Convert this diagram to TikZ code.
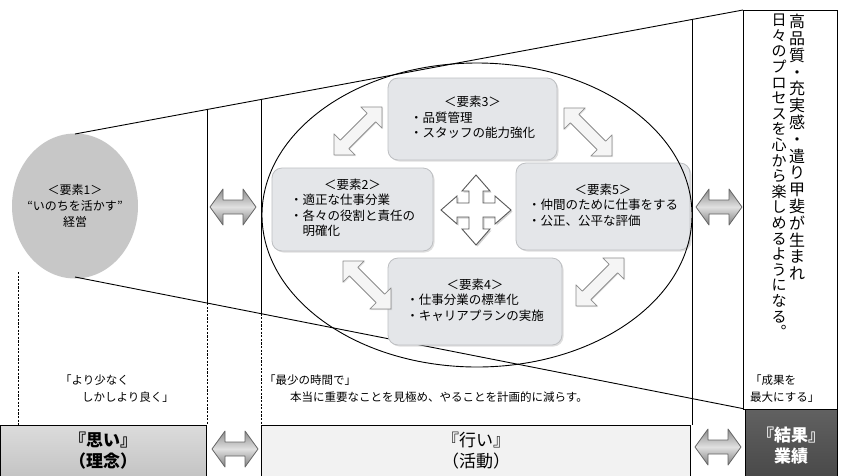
\documentclass[tikz,border=0pt]{standalone}
\usepackage{fontspec}
\setmainfont{Noto Sans CJK JP}
\usetikzlibrary{shapes.geometric,shadows}
\definecolor{boxfill}{HTML}{E4E6E9}
\definecolor{boxline}{HTML}{BDBFC2}
\begin{document}
\begin{tikzpicture}[x=1pt,y=-1pt,
  frame/.style={line width=0.9pt, black},
  dashframe/.style={line width=0.9pt, black, dash pattern=on 2.2pt off 1.4pt},
  elbox/.style={draw=boxline, line width=0.8pt, fill=boxfill, rounded corners=10pt,
    drop shadow={opacity=0.25, shadow xshift=1.5pt, shadow yshift=-1.5pt}, inner sep=0pt},
  eltext/.style={font=\fontsize{12.5}{15.5}\selectfont},
  harr/.style={draw=black!60, line width=0.8pt, top color=black!45, bottom color=black!50, middle color=black!12, line join=round},
  darr/.style={draw=black!45, line width=0.8pt, fill=black!4, line join=round,
    drop shadow={opacity=0.2, shadow xshift=1pt, shadow yshift=-1pt}},
  crossarr/.style={draw=black!65, line width=0.9pt, fill=white, line join=miter,
    drop shadow={opacity=0.35, shadow xshift=1.5pt, shadow yshift=-1.5pt}},
  pics/hdbl/.style={code={\path[harr] (-23,0) -- (-10,-18) -- (-10,-7) -- (10,-7) -- (10,-18) -- (23,0) -- (10,18) -- (10,7) -- (-10,7) -- (-10,18) -- cycle;}},
  pics/ddbl/.style={code={\path[darr] (-34,0) -- (-19,-15) -- (-19,-6) -- (19,-6) -- (19,-15) -- (34,0) -- (19,15) -- (19,6) -- (-19,6) -- (-19,15) -- cycle;}},
  pics/cross/.style={code={\path[crossarr] (35,0) -- (19,-14) -- (19,-7) -- (7,-7) -- (7,-19) -- (14,-19) -- (0,-35) -- (-14,-19) -- (-7,-19) -- (-7,-7) -- (-19,-7) -- (-19,-14) -- (-35,0) -- (-19,14) -- (-19,7) -- (-7,7) -- (-7,19) -- (-14,19) -- (0,35) -- (14,19) -- (7,19) -- (7,7) -- (19,7) -- (19,14) -- cycle;}},
  bigtext/.style={font=\fontsize{17}{21}\selectfont, align=center, inner sep=0pt},
  smalltext/.style={font=\fontsize{11.5}{14}\selectfont, anchor=west, inner sep=0pt},
  vtext/.style={align=center, anchor=north, inner sep=0pt}
]
\useasboundingbox (0,0) rectangle (841,475);
\fill[white] (0,0) rectangle (841,475);

% element 1 circle
\node[ellipse, minimum width=126pt, minimum height=145pt, fill=black!22, inner sep=0pt] (c1) at (75,206) {};
\node[font=\fontsize{12}{16}\selectfont, align=center, inner sep=0pt] (c1t) at (75,206) {＜要素1＞\\“いのちを活かす”\\経営};

% frame coordinates
\coordinate (tl) at (75,134);
\coordinate (tr) at (743,10);
\coordinate (bl) at (75,277);
\coordinate (br) at (745,409);
\coordinate (a1) at (207,109.5);
\coordinate (a2) at (207,303);
\coordinate (a3) at (207,425);
\coordinate (b1) at (261,99.5);
\coordinate (b2) at (261,313.6);
\coordinate (b3) at (261,425);
\coordinate (d1) at (692,19.5);
\coordinate (d3) at (692,425);
\coordinate (l1) at (18,272);
\coordinate (l3) at (18,425);

\draw[frame] (tl) -- (tr);
\draw[frame] (bl) -- (br);
\draw[frame] (a1) -- (a2);
\draw[dashframe] (a2) -- (a3);
\draw[frame] (b1) -- (b2);
\draw[dashframe] (b2) -- (b3);
\draw[frame] (d1) -- (d3);
\draw[dashframe] (l1) -- (l3);

% right column
\node[draw, frame, fill=white, minimum width=94pt, minimum height=399pt, anchor=north west, inner sep=0pt] (rc) at (743,10) {};
\node[vtext, font=\fontsize{16}{16.8}\selectfont] (v1) at (797,14) {高\\品\\質\\・\\充\\実\\感\\・\\遣\\り\\甲\\斐\\が\\生\\ま\\れ};
\node[vtext, font=\fontsize{15}{15.6}\selectfont] (v2) at (779,14) {日\\々\\の\\プ\\ロ\\セ\\ス\\を\\心\\か\\ら\\楽\\し\\め\\る\\よ\\う\\に\\な\\る\\︒};

% element boxes
\node[elbox, eltext, minimum width=169pt, minimum height=82pt] (e3) at (472.5,119)
  {\begin{tabular}{@{}l@{}}\multicolumn{1}{@{}c@{}}{＜要素3＞}\\・品質管理\\・スタッフの能力強化\end{tabular}};
\node[elbox, eltext, minimum width=161pt, minimum height=83pt] (e2) at (352.5,209.5)
  {\begin{tabular}{@{}l@{}}\multicolumn{1}{@{}c@{}}{＜要素2＞}\\・適正な仕事分業\\・各々の役割と責任の\\\phantom{・}明確化\end{tabular}};
\node[elbox, eltext, minimum width=174pt, minimum height=87pt] (e5) at (603,206.5)
  {\begin{tabular}{@{}l@{}}\multicolumn{1}{@{}c@{}}{＜要素5＞}\\・仲間のために仕事をする\\・公正、公平な評価\end{tabular}};
\node[elbox, eltext, minimum width=174pt, minimum height=87pt] (e4) at (475,301.5)
  {\begin{tabular}{@{}l@{}}\multicolumn{1}{@{}c@{}}{＜要素4＞}\\・仕事分業の標準化\\・キャリアプランの実施\end{tabular}};

% big ellipse
\node[ellipse, draw, frame, minimum width=430pt, minimum height=304pt, inner sep=0pt] (ell) at (477,215) {};

% arrows inside ellipse
\pic (cr) at (476,210) {cross};
\pic[rotate=45] (da1) at (358,131) {ddbl};
\pic[rotate=-45] (da2) at (588,132) {ddbl};
\pic[rotate=-45] (da3) at (367,285) {ddbl};
\pic[rotate=45] (da4) at (600,282) {ddbl};

% horizontal double arrows
\pic (ha1) at (233,207) {hdbl};
\pic (ha2) at (719,207) {hdbl};
\pic (ha3) at (235,449) {hdbl};
\pic (ha4) at (718,447) {hdbl};

% captions
\node[smalltext] (y1) at (60,380) {「より少なく};
\node[smalltext] (y2) at (82,397) {しかしより良く」};
\node[smalltext] (s1) at (264,380) {「最少の時間で」};
\node[smalltext] (s2) at (290,397) {本当に重要なことを見極め、やることを計画的に減らす。};
\node[smalltext] (k1) at (750,380) {「成果を};
\node[smalltext] (k2) at (750,397) {最大にする」};

% bottom boxes
\node[draw, frame, top color=black!14, bottom color=black!24, minimum width=206pt, minimum height=56pt, anchor=north west, inner sep=0pt] (omoi) at (0,425) {};
\node[bigtext, font=\fontsize{17}{21}\selectfont\bfseries] (omoit) at (103,451) {『思い』\\（理念）};
\node[draw, frame, fill=black!5, minimum width=429pt, minimum height=56pt, anchor=north west, inner sep=0pt] (okonai) at (261,425) {};
\node[bigtext] (okonait) at (476,451) {『行い』\\（活動）};
\node[draw, frame, top color=black!62, bottom color=black!72, minimum width=92pt, minimum height=72pt, anchor=north west, inner sep=0pt] (kekka) at (745,409) {};
\node[bigtext, text=white, font=\fontsize{17}{21}\selectfont\bfseries] (kekkat) at (791,446) {『結果』\\業績};
\end{tikzpicture}
\end{document}
